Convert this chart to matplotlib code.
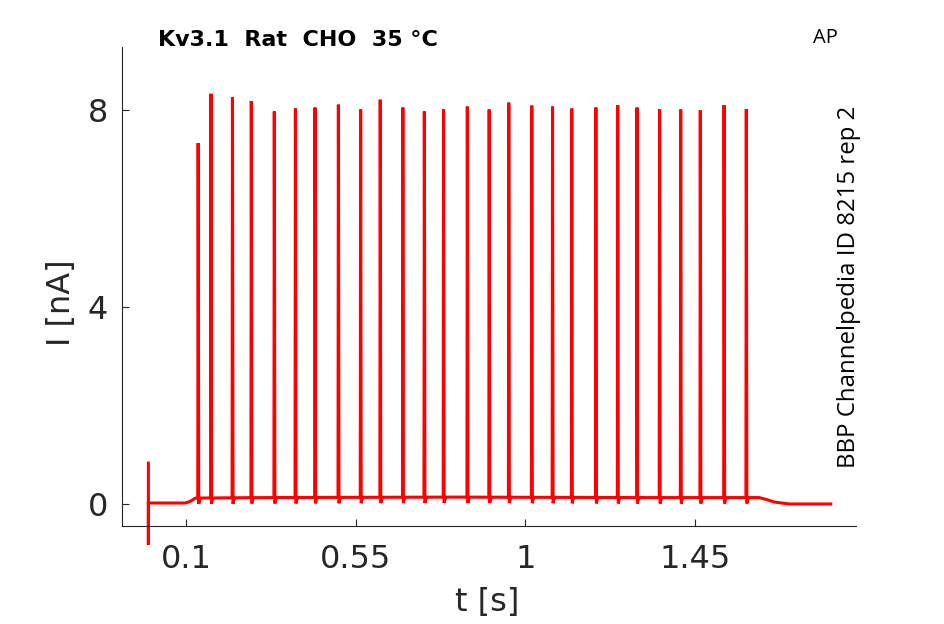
#!/usr/bin/env python3
# -*- coding: utf-8 -*-

import numpy as np
import matplotlib
matplotlib.use('Agg')
import matplotlib.pyplot as plt

# spike times [s] and peak currents [nA]
spike_t = [0.132, 0.166, 0.223, 0.273, 0.334, 0.390, 0.442, 0.504, 0.563,
           0.615, 0.675, 0.732, 0.783, 0.846, 0.904, 0.956, 1.017, 1.072,
           1.123, 1.187, 1.245, 1.296, 1.356, 1.412, 1.464, 1.527, 1.586]
spike_peak = [7.33, 8.33, 8.26, 8.18, 7.97, 8.03, 8.05, 8.11, 8.01, 8.21,
              8.05, 7.97, 8.01, 8.07, 8.01, 8.15, 8.09, 8.07, 8.03, 8.05,
              8.10, 8.05, 8.01, 8.01, 7.99, 8.10, 8.02]

# holding current between spikes
base_t = [0.0, 0.098, 0.110, 0.125, 0.30, 0.80, 1.30, 1.62, 1.64, 1.66, 1.70, 1.81]
base_v = [0.02, 0.02, 0.05, 0.12, 0.13, 0.14, 0.13, 0.13, 0.09, 0.04, 0.0, 0.0]

# stimulus artifact at t=0
artifact_t = 0.0
artifact_lo, artifact_hi = -0.83, 0.83

xticks = [0.1, 0.55, 1, 1.45]
xticklabels = ['0.1', '0.55', '1', '1.45']
yticks = [0, 4, 8]


def build_trace():
    spk_base = np.interp(spike_t, base_t, base_v)
    ts = [artifact_t, artifact_t, artifact_t]
    vs = [artifact_hi, artifact_lo, base_v[0]]
    knots = list(zip(base_t, base_v))
    i = 0
    for t, p, b in zip(spike_t, spike_peak, spk_base):
        while i < len(knots) and knots[i][0] < t - 0.002:
            ts.append(knots[i][0]); vs.append(knots[i][1])
            i += 1
        ts += [t - 0.001, t, t + 0.0015, t + 0.003, t + 0.007]
        vs += [b, p, b - 0.12, b - 0.05, b]
    while i < len(knots):
        ts.append(knots[i][0]); vs.append(knots[i][1])
        i += 1
    return np.array(ts), np.array(vs)


W, H = 945, 624
fig = plt.figure(figsize=(W / 100, H / 100), dpi=100)
ax = fig.add_axes([122 / W, 1 - 526 / H, (856 - 122) / W, (526 - 47) / H])

t, v = build_trace()
ax.plot(t, v, color='#ff0000', lw=2.2, solid_joinstyle='miter', clip_on=False)

ax.set_xlim(-0.07, 1.877)
ax.set_ylim(-0.447, 9.28)
ax.set_xticks(xticks)
ax.set_xticklabels(xticklabels)
ax.set_yticks(yticks)

for s in ['top', 'right']:
    ax.spines[s].set_visible(False)
for s in ['left', 'bottom']:
    ax.spines[s].set_color('#262626')
    ax.spines[s].set_linewidth(0.8)

ax.tick_params(direction='in', length=5, width=0.8, color='#262626',
               labelcolor='#262626', labelsize=23)
ax.tick_params(axis='x', pad=13)
ax.tick_params(axis='y', pad=10)

fig.text(487 / W, 1 - 603 / H, 't [s]', ha='center', va='center',
         fontsize=23, color='#262626')
fig.text(62 / W, 1 - 303 / H, 'I [nA]', ha='center', va='center',
         rotation=90, fontsize=23, color='#262626')

fig.text(158 / W, 1 - 40 / H, 'Kv3.1  Rat  CHO  35 °C', ha='left', va='center',
         fontsize=16, fontweight='bold')
fig.text(825 / W, 1 - 38 / H, 'AP', ha='center', va='center',
         fontsize=14.5, family='Open Sans')
fig.text(849 / W, 1 - 287 / H, 'BBP Channelpedia ID 8215 rep 2', ha='center',
         va='center', rotation=90, fontsize=17.3, family='Open Sans')

fig.savefig('out.png', dpi=100)
